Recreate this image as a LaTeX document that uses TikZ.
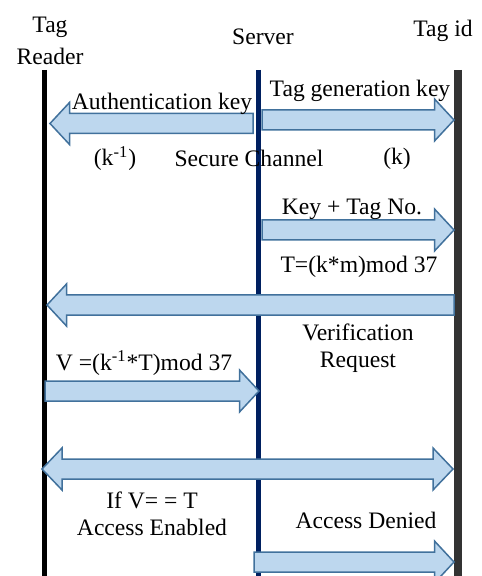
\documentclass[tikz,border=0pt]{standalone}
\usepackage{fontspec}
\setmainfont{Liberation Serif}
\usepackage{tikz}
\usetikzlibrary{calc}
\definecolor{ArrowFill}{RGB}{189,215,238}
\definecolor{ArrowEdge}{RGB}{65,113,156}
\definecolor{Navy}{RGB}{0,32,96}
\definecolor{Charcoal}{RGB}{51,51,51}
\newcommand{\lblfont}{\fontsize{11.8pt}{13.5pt}\selectfont}
\tikzset{
  lbl/.style={font=\lblfont,inner sep=0pt,anchor=base,align=center},
  lifeline/.style={line width=2.5pt},
  blockarrow/.style={draw=ArrowEdge,fill=ArrowFill,line width=0.75pt},
  blockR/.style={blockarrow,to path={let \p1=(\tikztostart),\p2=(\tikztotarget) in
    (\x1,\y1+5pt) -- (\x2-9.75pt,\y1+5pt) -- (\x2-9.75pt,\y1+10.5pt) -- (\x2,\y1)
    -- (\x2-9.75pt,\y1-10.5pt) -- (\x2-9.75pt,\y1-5pt) -- (\x1,\y1-5pt) -- cycle}},
  blockL/.style={blockarrow,to path={let \p1=(\tikztostart),\p2=(\tikztotarget) in
    (\x1,\y1+5pt) -- (\x2+9.75pt,\y1+5pt) -- (\x2+9.75pt,\y1+10.5pt) -- (\x2,\y1)
    -- (\x2+9.75pt,\y1-10.5pt) -- (\x2+9.75pt,\y1-5pt) -- (\x1,\y1-5pt) -- cycle}},
  blockLR/.style={blockarrow,to path={let \p1=(\tikztostart),\p2=(\tikztotarget) in
    (\x1,\y1) -- (\x1+10pt,\y1+10.5pt) -- (\x1+10pt,\y1+5pt) -- (\x2-10pt,\y1+5pt)
    -- (\x2-10pt,\y1+10.5pt) -- (\x2,\y1) -- (\x2-10pt,\y1-10.5pt) -- (\x2-10pt,\y1-5pt)
    -- (\x1+10pt,\y1-5pt) -- (\x1+10pt,\y1-10.5pt) -- cycle}}
}

\begin{document}
\begin{tikzpicture}[x=0.5pt,y=-0.5pt]
\useasboundingbox (0,0) rectangle (481,576);
\node[lbl] (reader) at (50,65) {Tag\\[2.5pt]Reader};
\node[lbl] (server) at (263,45) {Server};
\node[lbl] (tagid) at (443,37) {Tag id};
\coordinate (rdtop) at (44.5,70);
\coordinate (rdbot) at (44.5,576);
\coordinate (svtop) at (258.5,70);
\coordinate (svbot) at (258.5,576);
\coordinate (idtop) at (457.5,70);
\coordinate (idbot) at (457.5,576);
\draw[lifeline,black] (rdtop) -- (rdbot);
\draw[lifeline,Navy,line width=2.75pt] (svtop) -- (svbot);
\draw[lifeline,Charcoal,line width=4pt] (idtop) -- (idbot);
\coordinate (authS) at (253,123.5);
\coordinate (authE) at (50,123.5);
\coordinate (genS) at (262,120);
\coordinate (genE) at (454,120);
\coordinate (keyS) at (262,230);
\coordinate (keyE) at (454,230);
\coordinate (verS) at (454,305);
\coordinate (verE) at (47,305);
\coordinate (valS) at (45,391);
\coordinate (valE) at (259,391);
\coordinate (accL) at (42,469);
\coordinate (accR) at (453,469);
\coordinate (denS) at (254,562);
\coordinate (denE) at (454,562);
\draw[blockL] (authS) to (authE);
\draw[blockR] (genS) to (genE);
\draw[blockR] (keyS) to (keyE);
\draw[blockL] (verS) to (verE);
\draw[blockR] (valS) to (valE);
\draw[blockLR] (accL) to (accR);
\draw[blockR] (denS) to (denE);
\node[lbl] (authlbl) at (162,110) {Authentication key};
\node[lbl] (genlbl) at (360,97) {Tag generation key};
\node[lbl] (kinv) at (115,166) {(k\textsuperscript{-1})};
\node[lbl] (secure) at (249,167) {Secure Channel};
\node[lbl] (kval) at (397,165) {(k)};
\node[lbl] (keylbl) at (352,215) {Key + Tag No.};
\node[lbl] (tlbl) at (359,273) {T=(k*m)mod 37};
\node[lbl] (verlbl) at (358,367) {Verification\\Request};
\node[lbl] (vlbl) at (144,370) {V =(k\textsuperscript{-1}*T)mod 37};
\node[lbl] (iflbl) at (152,535) {If V= = T\\Access Enabled};
\node[lbl] (denlbl) at (366,528) {Access Denied};
\end{tikzpicture}
\end{document}
